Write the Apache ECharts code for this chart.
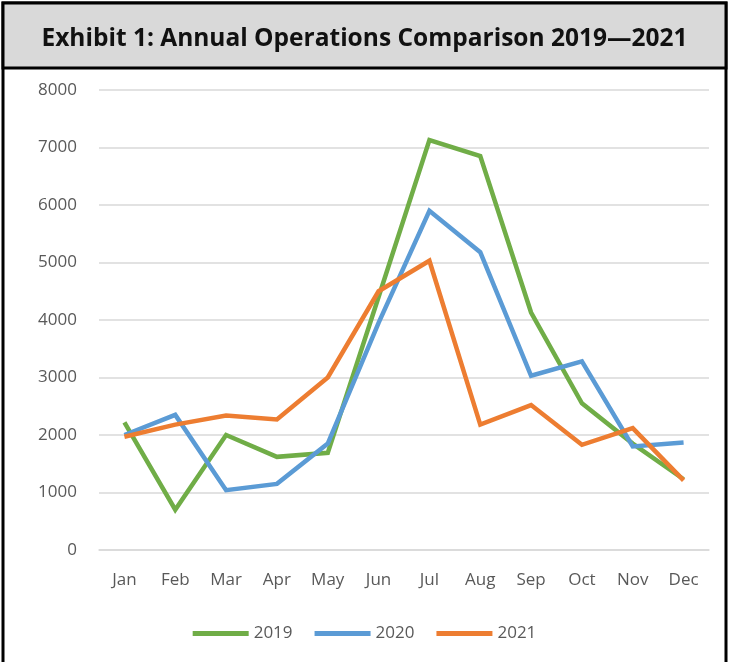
<!DOCTYPE html>
<html>
<head>
<meta charset="utf-8">
<script src="https://cdn.jsdelivr.net/npm/echarts@6/dist/echarts.min.js"></script>
<style>
  html, body { margin: 0; padding: 0; background: #fff; }
  #chart { width: 729px; height: 662px; }
</style>
</head>
<body>
<div id="chart"></div>
<script>
  // 月份
  const months = ['Jan', 'Feb', 'Mar', 'Apr', 'May', 'Jun', 'Jul', 'Aug', 'Sep', 'Oct', 'Nov', 'Dec'];
  // 各年数据
  const ops2019 = [2220, 700, 2000, 1620, 1690, 4400, 7130, 6850, 4130, 2550, 1850, 1230];
  const ops2020 = [2000, 2350, 1040, 1150, 1850, 3950, 5900, 5180, 3030, 3280, 1800, 1870];
  const ops2021 = [1970, 2180, 2340, 2270, 3000, 4500, 5030, 2180, 2520, 1830, 2120, 1210];
  const yTicks = [0, 1000, 2000, 3000, 4000, 5000, 6000, 7000, 8000];

  const myChart = echarts.init(document.getElementById('chart'));

  function line(name, data, color) {
    return {
      name: name,
      type: 'line',
      data: data,
      symbol: 'none',
      lineStyle: { color: color, width: 4.5, join: 'miter' },
      itemStyle: { color: color }
    };
  }

  myChart.setOption({
    animation: false,
    title: {
      text: 'Exhibit 1: Annual Operations Comparison 2019\u20142021',
      left: 'center',
      top: 22,
      textStyle: { fontFamily: 'Open Sans', fontWeight: 'bold', fontSize: 24.5, color: '#111' }
    },
    graphic: [
      {
        type: 'rect', z: -10,
        shape: { x: 3, y: 3, width: 723, height: 700 },
        style: { fill: '#fff', stroke: '#000', lineWidth: 3 }
      },
      {
        type: 'rect', z: -9,
        shape: { x: 3, y: 3, width: 723, height: 65 },
        style: { fill: '#d9d9d9', stroke: '#000', lineWidth: 3 }
      }
    ],
    legend: {
      bottom: 15,
      left: 'center',
      itemWidth: 56,
      itemHeight: 5,
      itemGap: 22,
      icon: 'rect',
      textStyle: { color: '#595959', fontFamily: 'Open Sans', fontSize: 17 },
      data: ['2019', '2020', '2021']
    },
    grid: { left: 99, right: 20, top: 90, bottom: 112 },
    xAxis: {
      type: 'category',
      data: months,
      boundaryGap: true,
      axisLine: { lineStyle: { color: '#d9d9d9', width: 1.5 } },
      axisTick: { show: false },
      axisLabel: { color: '#595959', fontFamily: 'Open Sans', fontSize: 17, margin: 22 }
    },
    yAxis: {
      type: 'value',
      min: yTicks[0],
      max: yTicks[yTicks.length - 1],
      interval: 1000,
      axisLine: { show: false },
      axisTick: { show: false },
      axisLabel: {
        color: '#595959', fontFamily: 'Open Sans', fontSize: 17, margin: 22,
        formatter: function (v) { return String(v); }
      },
      splitLine: { lineStyle: { color: '#d9d9d9', width: 1.5 } }
    },
    series: [
      line('2019', ops2019, '#70ad47'),
      line('2020', ops2020, '#5b9bd5'),
      line('2021', ops2021, '#ed7d31')
    ]
  });
</script>
</body>
</html>
